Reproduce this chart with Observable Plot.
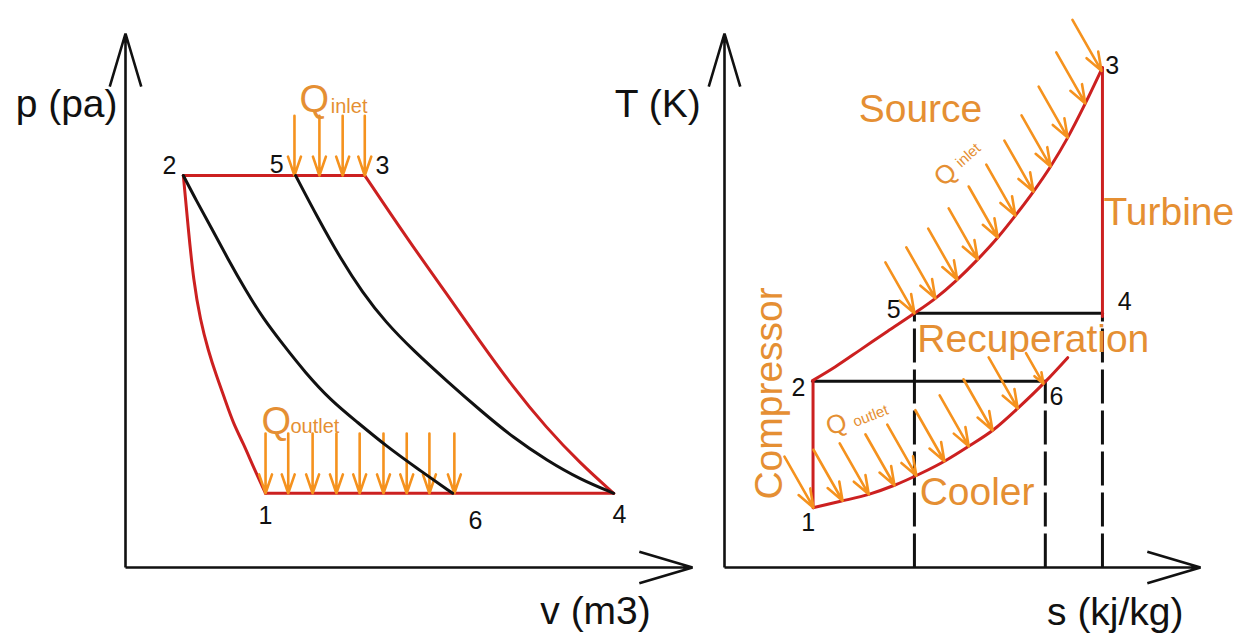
<!DOCTYPE html>
<html><head><meta charset="utf-8">
<script src="https://cdn.jsdelivr.net/npm/d3@7"></script>
<script src="https://cdn.jsdelivr.net/npm/@observablehq/plot@0.6"></script>
<style>
html,body{margin:0;padding:0;background:#fff;overflow:hidden}
#wrap{position:relative;width:1242px;height:637px;background:#fff}
#wrap svg{position:absolute;left:0;top:0;max-width:none}
</style></head><body><div id="wrap"></div>
<script>
// ================= DATA =================
// ---- p-v diagram (v, p) ----
const pvAxisMax = [10, 10];
const pvTop23 = [[1.02, 7.34], [4.22, 7.34]];
const pvBottom14 = [[2.47, 1.39], [8.61, 1.39]];
const pvRed21 = [[1.02,7.34],[1.11,6.31],[1.20,5.37],[1.32,4.63],[1.46,4.06],[1.60,3.60],[1.76,3.13],[1.90,2.70],[2.08,2.32],[2.26,1.87],[2.47,1.39]];
const pvRed34 = [[4.22,7.34],[4.48,6.93],[5.08,5.99],[5.66,5.13],[6.24,4.25],[6.84,3.37],[7.42,2.62],[8.02,1.95],[8.61,1.39]];
const pvBlack26 = [[1.02,7.34],[1.25,6.87],[1.52,6.35],[1.80,5.79],[2.12,5.19],[2.43,4.66],[2.79,4.16],[3.17,3.65],[3.62,3.13],[4.09,2.72],[4.59,2.28],[5.15,1.85],[5.77,1.39]];
const pvBlack54 = [[3.00,7.34],[3.39,6.55],[3.79,5.79],[4.18,5.15],[4.59,4.59],[5.08,4.06],[5.68,3.48],[6.26,2.94],[6.84,2.43],[7.44,2.00],[8.02,1.65],[8.61,1.39]];
const pvQinV = [2.98, 3.42, 3.83, 4.22];
const pvQinP = [8.46, 7.34];
const pvQoutV = [2.47, 2.87, 3.30, 3.72, 4.13, 4.55, 4.96, 5.36, 5.80];
const pvQoutP = [2.51, 1.39];
const pvLabelsEnd = [["2", 0.90, 7.52], ["5", 2.79, 7.54]];
const pvLabelsStart = [["3", 4.41, 7.52]];
const pvLabelsMid = [["1", 2.47, 0.97], ["6", 6.17, 0.87], ["4", 8.71, 0.99]];
const pvYTitle = [["p (pa)", -0.14, 8.67]];
const pvXTitle = [["v (m3)", 8.29, -0.82]];
const pvQLabels = [["Q", 3.33, 8.75], ["Q", 2.66, 2.73]];
const pvQSubs = [["inlet", 3.62, 8.64], ["outlet", 2.91, 2.63]];

// ---- T-s diagram (s, T) ----
const tsAxisMax = [10, 10];
const tsUpper253 = [[1.85,3.50],[2.33,3.76],[2.86,4.08],[3.42,4.42],[3.99,4.76],[4.43,5.04],[4.85,5.36],[5.32,5.77],[5.74,6.18],[6.11,6.59],[6.49,7.04],[6.85,7.51],[7.21,8.05],[7.58,8.69],[7.94,9.36]];
const tsLower16 = [[1.87,1.12],[2.44,1.24],[3.03,1.37],[3.57,1.54],[4.12,1.76],[4.64,2.00],[5.13,2.27],[5.65,2.58],[6.16,2.98],[6.74,3.48],[7.21,3.93]];
const tsRed12 = [[1.86,1.12],[1.86,3.50]];
const tsRed34 = [[7.94,9.36],[7.94,4.70]];
const tsBlack54 = [[3.99,4.76],[7.94,4.76]];
const tsBlack26 = [[1.85,3.49],[6.74,3.49]];
const tsDashS = [3.99, 6.74, 7.94];
const tsDashTop = [4.76, 3.49, 4.76];
const tsInletTips = [[3.99,4.76],[4.43,5.04],[4.89,5.39],[5.32,5.77],[5.74,6.18],[6.11,6.59],[6.49,7.04],[6.85,7.51],[7.21,8.05],[7.58,8.69],[7.92,9.30]];
const tsOutletTips = [[1.87,1.12],[2.48,1.25],[3.03,1.37],[3.57,1.54],[4.03,1.72],[4.62,1.99],[5.13,2.27],[5.63,2.57],[6.16,2.98],[6.70,3.44]];
const tsOutletLen = [1,1,1,1,1,1,1,1,1,0.6];
const tsArrowDir = [-0.61, 0.955];
const tsLabelsEnd = [["5", 3.70, 4.83], ["2", 1.70, 3.37]];
const tsLabelsStart = [["3", 8.00, 9.40], ["4", 8.26, 4.97], ["6", 6.83, 3.20]];
const tsLabelsMid = [["1", 1.76, 0.84]];
const tsYTitle = [["T (K)", -0.50, 8.67]];
const tsXTitle = [["s (kj/kg)", 8.21, -0.84]];
const tsOrangeLabels = [["Source", 2.82, 8.58], ["Turbine", 7.96, 6.65], ["Recuperation", 4.05, 4.27], ["Cooler", 4.10, 1.40]];
const tsVerticalLabel = [["Compressor", 0.95, 3.26]];
const tsQin = [["Q", 4.64, 7.36, 26, -42], ["inlet", 5.12, 7.72, 15, -42]];
const tsQout = [["Q", 2.35, 2.68, 26, -20], ["outlet", 3.07, 2.84, 15, -21]];

// ================= STYLE =================
const FONT = "'Liberation Sans', Arial, Helvetica, sans-serif";
const RED = "#cc2020", BLACK = "#111111", ORANGE_ARROW = "#f5921e", ORANGE_TEXT = "#e58f33";

function panel(xRange, marks) {
  return Plot.plot({
    width: 1242, height: 637, margin: 0,
    x: {domain: [0, 10], range: xRange, axis: null},
    y: {domain: [0, 10], range: [567, 33], axis: null},
    style: {fontFamily: FONT, background: "transparent", overflow: "visible"},
    marks
  });
}
const axisArrows = (max) => Plot.arrow(
  [{x1: 0, y1: 0, x2: 0, y2: max[1]}, {x1: 0, y1: 0, x2: max[0], y2: 0}],
  {x1: "x1", y1: "y1", x2: "x2", y2: "y2", stroke: BLACK, strokeWidth: 2.6, headAngle: 33, headLength: 32, strokeLinecap: "butt"});
const line = (d, stroke, curve = "catmull-rom") => Plot.line(d, {x: (p) => p[0], y: (p) => p[1], stroke, strokeWidth: 3, curve});
const label = (d, anchor, size, fill, extra = {}) => Plot.text(d, {x: (r) => r[1], y: (r) => r[2], text: (r) => r[0], textAnchor: anchor, fontSize: size, fill, ...extra});

// ================= LEFT: p-v =================
const pvQin = pvQinV.map((v) => ({v, p1: pvQinP[0], p2: pvQinP[1]}));
const pvQout = pvQoutV.map((v) => ({v, p1: pvQoutP[0], p2: pvQoutP[1]}));
const left = panel([125, 692], [
  axisArrows(pvAxisMax),
  line(pvTop23, RED, "linear"), line(pvBottom14, RED, "linear"), line(pvRed21, RED, "basis"), line(pvRed34, RED, "basis"),
  Plot.arrow(pvQin, {x1: "v", y1: "p1", x2: "v", y2: "p2", stroke: ORANGE_ARROW, strokeWidth: 2.6, headAngle: 38, headLength: 12}),
  Plot.arrow(pvQout, {x1: "v", y1: "p1", x2: "v", y2: "p2", stroke: ORANGE_ARROW, strokeWidth: 2.6, headAngle: 38, headLength: 12}),
  line(pvBlack26, BLACK, "basis"), line(pvBlack54, BLACK, "basis"),
  label(pvLabelsEnd, "end", 25, BLACK),
  label(pvLabelsStart, "start", 25, BLACK),
  label(pvLabelsMid, "middle", 25, BLACK),
  label(pvYTitle, "end", 39, BLACK),
  label(pvXTitle, "middle", 39, BLACK),
  label(pvQLabels, "middle", 38, ORANGE_TEXT),
  label(pvQSubs, "start", 20, ORANGE_TEXT)
]);

// ================= RIGHT: T-s =================
const tsInArrows = tsInletTips.map(([s, T]) => ({s1: s + tsArrowDir[0], T1: T + tsArrowDir[1], s2: s, T2: T}));
const tsOutArrows = tsOutletTips.map(([s, T], i) => ({s1: s + tsArrowDir[0] * tsOutletLen[i], T1: T + tsArrowDir[1] * tsOutletLen[i], s2: s, T2: T}));
const tsDashes = tsDashS.map((s, i) => ({s, T1: 0, T2: tsDashTop[i]}));
const right = panel([724, 1200], [
  axisArrows(tsAxisMax),
  Plot.link(tsDashes, {x1: "s", y1: "T1", x2: "s", y2: "T2", stroke: BLACK, strokeWidth: 3, strokeDasharray: "34,7"}),
  line(tsBlack54, BLACK, "linear"), line(tsBlack26, BLACK, "linear"),
  line(tsRed12, RED, "linear"), line(tsRed34, RED, "linear"), line(tsUpper253, RED, "monotone-x"), line(tsLower16, RED, "monotone-x"),
  Plot.arrow(tsInArrows, {x1: "s1", y1: "T1", x2: "s2", y2: "T2", stroke: ORANGE_ARROW, strokeWidth: 2.6, headAngle: 40, headLength: 12}),
  Plot.arrow(tsOutArrows, {x1: "s1", y1: "T1", x2: "s2", y2: "T2", stroke: ORANGE_ARROW, strokeWidth: 2.6, headAngle: 40, headLength: 12}),
  label(tsLabelsEnd, "end", 25, BLACK),
  label(tsLabelsStart, "start", 25, BLACK),
  label(tsLabelsMid, "middle", 25, BLACK),
  label(tsYTitle, "end", 39, BLACK),
  label(tsXTitle, "middle", 39, BLACK),
  label(tsOrangeLabels, "start", 39, ORANGE_TEXT),
  label(tsVerticalLabel, "middle", 39, ORANGE_TEXT, {rotate: -90}),
  ...tsQin.map((r) => label([r], "middle", r[3], ORANGE_TEXT, {rotate: r[4]})),
  ...tsQout.map((r) => label([r], "middle", r[3], ORANGE_TEXT, {rotate: r[4]}))
]);

const wrap = document.getElementById("wrap");
wrap.appendChild(left);
wrap.appendChild(right);
</script></body></html>
